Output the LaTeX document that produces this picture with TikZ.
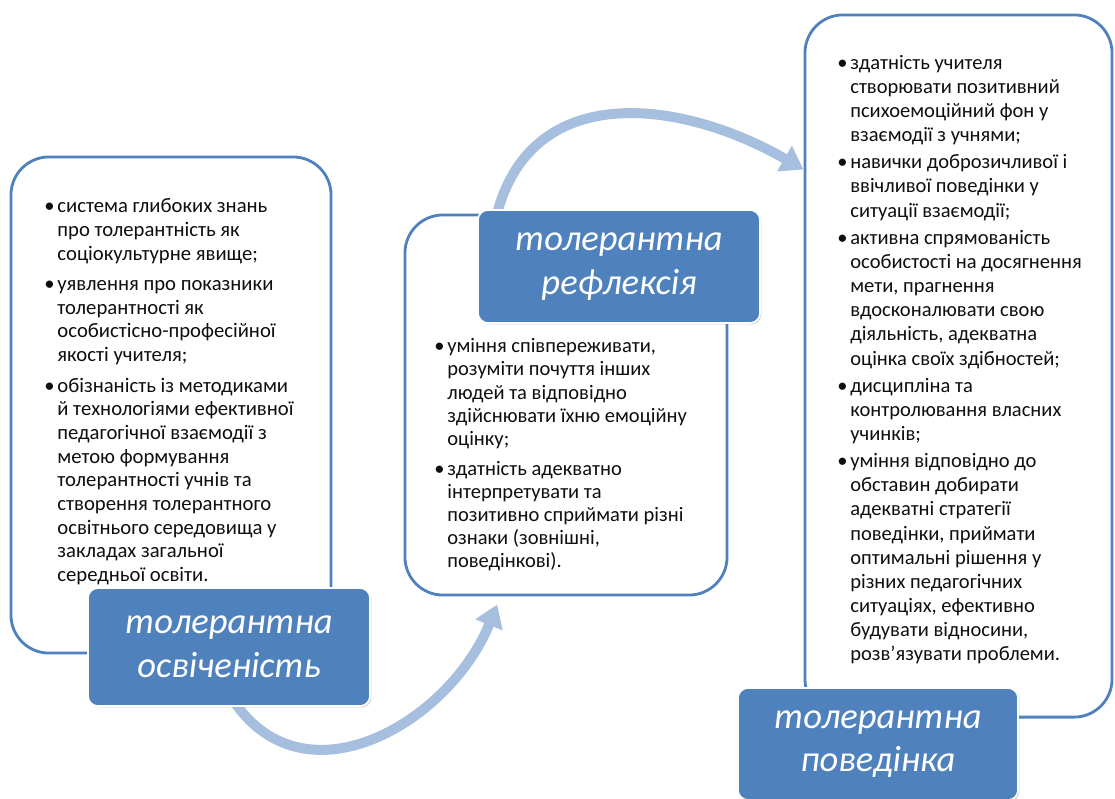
\documentclass[tikz,border=0pt]{standalone}
\usepackage{fontspec}
\setmainfont{Carlito}
\usetikzlibrary{arrows.meta,positioning,calc,backgrounds,shadows}
\definecolor{boxblue}{RGB}{79,129,189}
\definecolor{flowblue}{RGB}{167,191,222}
\definecolor{inkgrey}{RGB}{15,15,15}
\newcommand{\knowfont}{\fontsize{14.7}{16.8}\selectfont}
\newcommand{\reflfont}{\fontsize{14.6}{16.4}\selectfont}
\newcommand{\behfont}{\fontsize{14.6}{17.2}\selectfont}

\begin{document}
\begin{tikzpicture}[x=0.025cm,y=-0.025cm,
        frame/.style={draw=boxblue,line width=2pt,fill=white,rounded corners=0.95cm},
        tag/.style={draw=white,line width=1.2pt,fill=boxblue,rounded corners=0.25cm,
                    text=white,align=center,font=\itshape\fontsize{26}{31}\selectfont,
                    drop shadow={opacity=0.35,shadow xshift=1pt,shadow yshift=-1pt}},
        items/.style={anchor=north west,inner sep=0pt,align=left,text=inkgrey},
        flow/.style={-{Triangle[width=0.7cm,length=0.55cm]},line width=0.25cm,color=flowblue}
    ]
        \useasboundingbox (0,0) rectangle (1115,798);

        % Frames
        \node[frame,minimum width=8cm,minimum height=12.4cm] (knowbox) at (171,405) {};
        \node[frame,minimum width=8.05cm,minimum height=9.5cm] (reflbox) at (566,405) {};
        \node[frame,minimum width=7.675cm,minimum height=17.55cm] (behbox) at (958.5,366) {};

        % Texts
        \node[items] (knowtext) at (44,196) {\knowfont
            \begin{tabular}{@{}l@{\hspace{2pt}}l@{}}
            \textbullet & система глибоких знань\\
                        & про толерантність як\\
                        & соціокультурне явище;\\[5pt]
            \textbullet & уявлення про показники\\
                        & толерантності як\\
                        & особистісно-професійної\\
                        & якості учителя;\\[5pt]
            \textbullet & обізнаність із методиками\\
                        & й технологіями ефективної\\
                        & педагогічної взаємодії з\\
                        & метою формування\\
                        & толерантності учнів та\\
                        & створення толерантного\\
                        & освітнього середовища у\\
                        & закладах загальної\\
                        & середньої освіти.
            \end{tabular}};
        \node[items] (refltext) at (434,336.5) {\reflfont
            \begin{tabular}{@{}l@{\hspace{2pt}}l@{}}
            \textbullet & уміння співпереживати,\\
                        & розуміти почуття інших\\
                        & людей та відповідно\\
                        & здійснювати їхню емоційну\\
                        & оцінку;\\[5pt]
            \textbullet & здатність адекватно\\
                        & інтерпретувати та\\
                        & позитивно сприймати різні\\
                        & ознаки (зовнішні,\\
                        & поведінкові).
            \end{tabular}};
        \node[items] (behtext) at (837,52) {\behfont
            \begin{tabular}{@{}l@{\hspace{2pt}}l@{}}
            \textbullet & здатність учителя\\
                        & створювати позитивний\\
                        & психоемоційний фон у\\
                        & взаємодії з учнями;\\[2pt]
            \textbullet & навички доброзичливої і\\
                        & ввічливої поведінки у\\
                        & ситуації взаємодії;\\[2pt]
            \textbullet & активна спрямованість\\
                        & особистості на досягнення\\
                        & мети, прагнення\\
                        & вдосконалювати свою\\
                        & діяльність, адекватна\\
                        & оцінка своїх здібностей;\\[2pt]
            \textbullet & дисципліна та\\
                        & контролювання власних\\
                        & учинків;\\[2pt]
            \textbullet & уміння відповідно до\\
                        & обставин добирати\\
                        & адекватні стратегії\\
                        & поведінки, приймати\\
                        & оптимальні рішення у\\
                        & різних педагогічних\\
                        & ситуаціях, ефективно\\
                        & будувати відносини,\\
                        & розв’язувати проблеми.
            \end{tabular}};

        % Labels
        \node[tag,minimum width=7.05cm,minimum height=2.95cm] (knowtag) at (229,647) {толерантна\\освіченість};
        \node[tag,minimum width=7.05cm,minimum height=2.825cm] (refltag) at (619,266.5) {толерантна\\рефлексія};
        \node[tag,minimum width=7cm,minimum height=2.8cm] (behtag) at (878,744) {толерантна\\поведінка};

        % Arrows
        \begin{scope}[on background layer]
        \draw[flow] ([xshift=0.15cm,yshift=0.1cm]knowtag.south) to[out=-55,in=-112,looseness=1.15]
            ([xshift=-1.72cm,yshift=-0.2cm]reflbox.south);
        \draw[flow] ([xshift=0.5cm,yshift=-0.1cm]refltag.north west) to[out=75,in=150,looseness=1.15]
            ([yshift=-3.9cm]behbox.north west);
        \end{scope}
    \end{tikzpicture}
\end{document}
